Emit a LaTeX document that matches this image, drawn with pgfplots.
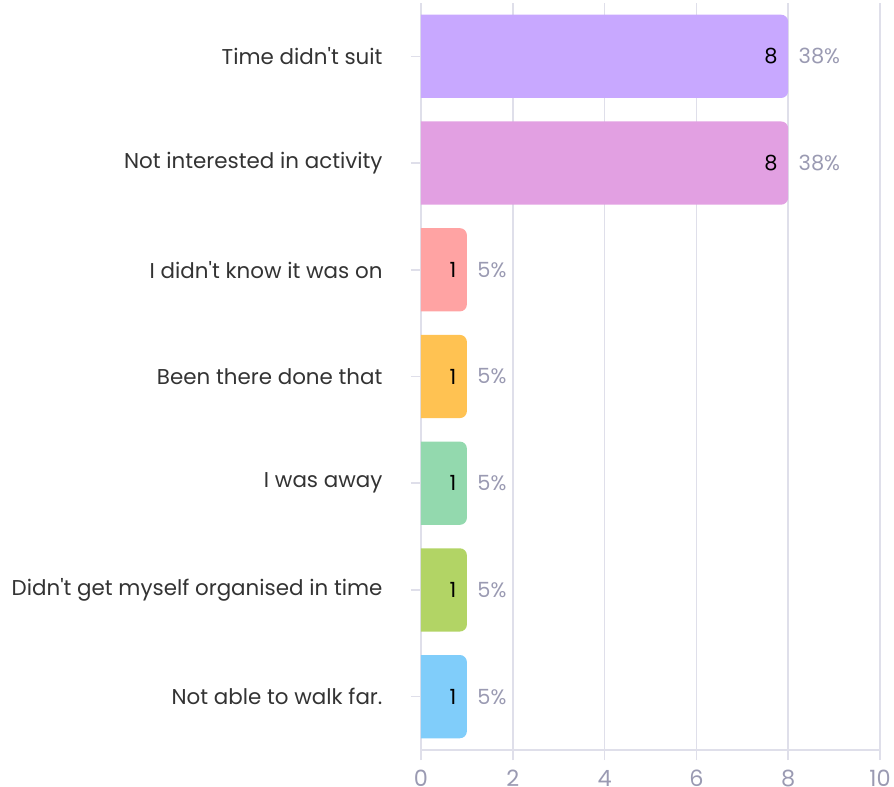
\documentclass[border=0pt]{standalone}
\usepackage{fontspec}
\setmainfont{Poppins}[Ligatures=TeXOff]
\usepackage{pgfplots}
\pgfplotsset{compat=1.18}
\definecolor{gridc}{HTML}{DFDFEA}
\definecolor{tickc}{HTML}{9A9AB2}
\definecolor{labc}{HTML}{333333}
\definecolor{cA}{HTML}{C8A8FF}
\definecolor{cB}{HTML}{E2A0E2}
\definecolor{cC}{HTML}{FFA3A3}
\definecolor{cD}{HTML}{FFC252}
\definecolor{cE}{HTML}{93D9AE}
\definecolor{cF}{HTML}{B2D465}
\definecolor{cG}{HTML}{80CDFA}
\begin{document}
\begin{tikzpicture}
\path[use as bounding box] (-421bp,-37bp) rectangle (473bp,750bp);
\begin{axis}[
  at={(0,0)}, anchor=south west,
  scale only axis, width=459bp, height=747bp,
  xmin=0, xmax=10, ymin=-0.5, ymax=6.5,
  axis x line*=bottom, axis y line*=left,
  axis line style={gridc, line width=1.6bp},
  xtick={0,2,4,6,8,10},
  ytick={0,1,2,3,4,5,6},
  yticklabels={Not able to walk far., Didn't get myself organised in time, I was away, Been there done that, I didn't know it was on, Not interested in activity, Time didn't suit},
  xmajorgrids,
  major grid style={gridc, line width=1.6bp},
  tick style={gridc, line width=1.6bp},
  tick align=outside,
  major tick length=10bp,
  /pgf/number format/assume math mode=true,
  xticklabel style={font=\fontsize{22.5}{22.5}\selectfont, text=tickc, inner sep=0pt, text height=16bp, text depth=0pt, yshift=-10bp},
  yticklabel style={font=\fontsize{21.5}{21.5}\selectfont, text=labc, xshift=-25bp},
  clip=true,
]
\addplot[fill=cA, draw=none, rounded corners=7bp] coordinates {(-1,5.61) (8,5.61) (8,6.39) (-1,6.39)} -- cycle;
\addplot[fill=cB, draw=none, rounded corners=7bp] coordinates {(-1,4.61) (8,4.61) (8,5.39) (-1,5.39)} -- cycle;
\addplot[fill=cC, draw=none, rounded corners=7bp] coordinates {(-1,3.61) (1,3.61) (1,4.39) (-1,4.39)} -- cycle;
\addplot[fill=cD, draw=none, rounded corners=7bp] coordinates {(-1,2.61) (1,2.61) (1,3.39) (-1,3.39)} -- cycle;
\addplot[fill=cE, draw=none, rounded corners=7bp] coordinates {(-1,1.61) (1,1.61) (1,2.39) (-1,2.39)} -- cycle;
\addplot[fill=cF, draw=none, rounded corners=7bp] coordinates {(-1,0.61) (1,0.61) (1,1.39) (-1,1.39)} -- cycle;
\addplot[fill=cG, draw=none, rounded corners=7bp] coordinates {(-1,-0.39) (1,-0.39) (1,0.39) (-1,0.39)} -- cycle;
\addplot[draw=none, mark=none, nodes near coords, point meta=explicit symbolic,
  nodes near coords style={anchor=east, xshift=-7bp, font=\fontsize{21}{21}\selectfont, text=black}]
  coordinates {(8,6)[8] (8,5)[8] (1,4)[1] (1,3)[1] (1,2)[1] (1,1)[1] (1,0)[1]};
\addplot[draw=none, mark=none, nodes near coords, point meta=explicit symbolic,
  nodes near coords style={anchor=west, xshift=7bp, font=\fontsize{21}{21}\selectfont, text=tickc}]
  coordinates {(8,6)[38\%] (8,5)[38\%] (1,4)[5\%] (1,3)[5\%] (1,2)[5\%] (1,1)[5\%] (1,0)[5\%]};
\end{axis}
\end{tikzpicture}
\end{document}
